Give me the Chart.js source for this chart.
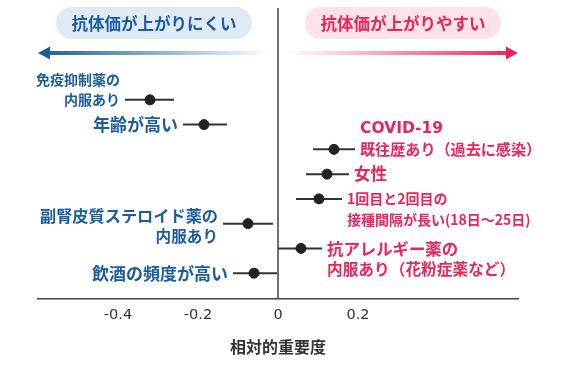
<!DOCTYPE html>
<html lang="ja">
  <head>
    <meta charset="UTF-8" />
    <title>抗体価に影響する要因</title>
    <script src="https://cdn.jsdelivr.net/npm/chart.js"></script>
    <style>
      html, body { margin: 0; padding: 0; background: #fff; }
      #wrap { width: 565px; height: 366px; }
    </style>
  </head>
  <body>
    <div id="wrap"><canvas id="forest" width="565" height="366"></canvas></div>
    <script>
      // 各要因（上から順に）
      const factors = [
        ['免疫抑制薬の', '内服あり'],
        ['年齢が高い'],
        ['COVID-19', '既往歴あり（過去に感染）'],
        ['女性'],
        ['1回目と2回目の', '接種間隔が長い(18日〜25日)'],
        ['副腎皮質ステロイド薬の', '内服あり'],
        ['抗アレルギー薬の', '内服あり（花粉症薬など）'],
        ['飲酒の頻度が高い'],
      ];
      // 相対的重要度（点推定と区間）
      const values = [-0.32, -0.185, 0.14, 0.1225, 0.1025, -0.075, 0.0575, -0.06];
      const lower = [-0.3825, -0.2375, 0.0875, 0.07, 0.045, -0.1375, 0.0, -0.1125];
      const upper = [-0.26, -0.1275, 0.1925, 0.1775, 0.16, -0.0125, 0.11, -0.0025];
      const xTicks = [-0.4, -0.2, 0, 0.2];

      // ラベルの見た目（どの行を点の高さに合わせるか、文字サイズ）
      const labelAnchor = [1, 0, 1, 0, 0, 0.4, 0, 0];
      const labelSizes = [[14, 14], [17], [15.5, 15.1], [16.5], [14, 14], [16.2, 15.6], [16.4, 15.7], [17]];

      const BLUE = '#1b5c9e';
      const PINK = '#e9245c';
      const FONT = '"Noto Sans CJK JP", "Noto Sans", sans-serif';
      const LATIN = '"DejaVu Sans", "Noto Sans CJK JP", sans-serif';

      const forestPlugin = {
        id: 'forest',
        beforeDatasetsDraw(chart) {
          const { ctx, scales } = chart;
          const x = scales.x, y = scales.y;
          ctx.save();
          // 0 の縦線
          ctx.strokeStyle = '#444';
          ctx.lineWidth = 1.5;
          ctx.beginPath();
          ctx.moveTo(x.getPixelForValue(0), 8);
          ctx.lineTo(x.getPixelForValue(0), chart.chartArea.bottom);
          ctx.stroke();
          // 区間
          ctx.strokeStyle = '#333';
          ctx.lineWidth = 2;
          values.forEach((v, i) => {
            const py = y.getPixelForValue(i);
            ctx.beginPath();
            ctx.moveTo(x.getPixelForValue(lower[i]), py);
            ctx.lineTo(x.getPixelForValue(upper[i]), py);
            ctx.stroke();
          });
          ctx.restore();
        },
        afterDatasetsDraw(chart) {
          const { ctx, scales } = chart;
          const x = scales.x, y = scales.y;
          ctx.save();
          ctx.textBaseline = 'middle';
          const lh = 20.5;
          factors.forEach((lines, i) => {
            const py = y.getPixelForValue(i);
            const left = values[i] < 0;
            ctx.fillStyle = left ? BLUE : PINK;
            ctx.textAlign = left ? 'right' : 'left';
            const tx = left
              ? x.getPixelForValue(lower[i]) - 5
              : x.getPixelForValue(upper[i]) + 5;
            lines.forEach((t, k) => {
              const fam = /^[A-Z]/.test(t) ? LATIN : FONT;
              ctx.font = 'bold ' + labelSizes[i][k] + 'px ' + fam;
              ctx.fillText(t, tx, py + (k - labelAnchor[i]) * lh);
            });
          });

          // 上部の見出しと矢印
          const zx = x.getPixelForValue(0);
          const pill = (cx, w, bg, fg, text) => {
            ctx.fillStyle = bg;
            ctx.beginPath();
            ctx.roundRect(cx - w / 2, 7, w, 32, 16);
            ctx.fill();
            ctx.fillStyle = fg;
            ctx.textAlign = 'center';
            ctx.font = 'bold 16.5px ' + FONT;
            ctx.fillText(text, cx, 23.5);
          };
          pill(154, 196, '#dfeaf5', BLUE, '抗体価が上がりにくい');
          pill(403, 196, '#fde2e9', PINK, '抗体価が上がりやすい');

          const ay = 53;
          const a = chart.chartArea;
          let g = ctx.createLinearGradient(a.left, 0, zx - 8, 0);
          g.addColorStop(0, BLUE);
          g.addColorStop(1, 'rgba(27,92,158,0)');
          ctx.fillStyle = g;
          ctx.fillRect(a.left + 8, ay - 2, zx - 8 - a.left - 8, 4);
          ctx.beginPath();
          ctx.moveTo(a.left, ay);
          ctx.lineTo(a.left + 12, ay - 6.5);
          ctx.lineTo(a.left + 12, ay + 6.5);
          ctx.closePath();
          ctx.fillStyle = BLUE;
          ctx.fill();

          g = ctx.createLinearGradient(zx + 8, 0, a.right, 0);
          g.addColorStop(0, 'rgba(233,36,92,0)');
          g.addColorStop(1, PINK);
          ctx.fillStyle = g;
          ctx.fillRect(zx + 8, ay - 2, a.right - 8 - zx - 8, 4);
          ctx.beginPath();
          ctx.moveTo(a.right, ay);
          ctx.lineTo(a.right - 12, ay - 6.5);
          ctx.lineTo(a.right - 12, ay + 6.5);
          ctx.closePath();
          ctx.fillStyle = PINK;
          ctx.fill();
          ctx.restore();
        },
      };

      new Chart(document.getElementById('forest'), {
        type: 'scatter',
        data: {
          datasets: [
            {
              data: values.map((v, i) => ({ x: v, y: i })),
              backgroundColor: '#222',
              borderColor: '#222',
              pointRadius: 5,
              pointHoverRadius: 5,
            },
          ],
        },
        options: {
          responsive: false,
          animation: false,
          layout: { padding: { left: 38, right: 47, top: 60, bottom: 9 } },
          plugins: { legend: { display: false }, tooltip: { enabled: false } },
          scales: {
            x: {
              min: -0.6,
              max: 0.6,
              afterBuildTicks: (s) => { s.ticks = xTicks.map((v) => ({ value: v })); },
              grid: { display: false, drawTicks: false },
              border: { color: '#444', width: 1.5 },
              ticks: {
                color: '#333',
                padding: 8,
                font: { family: LATIN, size: 14.5 },
                callback: (v) => (v === 0 ? '0' : String(Math.round(v * 10) / 10)),
              },
              title: {
                display: true,
                text: '相対的重要度',
                color: '#333',
                padding: { top: 6, bottom: 0 },
                font: { family: FONT, size: 16, weight: 'bold' },
              },
            },
            y: {
              display: false,
              reverse: true,
              min: -1.61,
              max: 8.02,
            },
          },
        },
        plugins: [forestPlugin],
      });
    </script>
  </body>
</html>
